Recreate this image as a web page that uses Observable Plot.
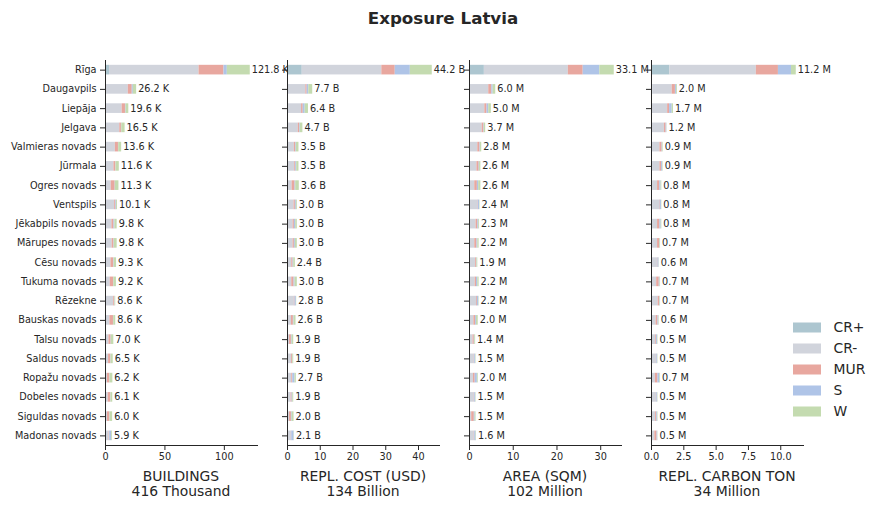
<!DOCTYPE html>
<html><head><meta charset="utf-8">
<script src="https://cdn.jsdelivr.net/npm/d3@7"></script>
<script src="https://cdn.jsdelivr.net/npm/@observablehq/plot@0.6"></script>
<style>
body{margin:0;background:#fff;font-family:"DejaVu Sans",sans-serif;}
#chart{position:relative;width:879px;height:510px;overflow:hidden;}
.title{position:absolute;left:0;width:886px;top:8px;text-align:center;font-weight:bold;font-size:16.7px;line-height:20px;color:#262626;}
.panel{position:absolute;top:0;}
.xlab{position:absolute;width:200px;text-align:center;font-size:13.9px;line-height:15px;color:#262626;}
</style></head><body><div id="chart"><div class="title">Exposure Latvia</div></div>
<script>
const regions = ["Rīga","Daugavpils","Liepāja","Jelgava","Valmieras novads","Jūrmala","Ogres novads","Ventspils","Jēkabpils novads","Mārupes novads","Cēsu novads","Tukuma novads","Rēzekne","Bauskas novads","Talsu novads","Saldus novads","Ropažu novads","Dobeles novads","Siguldas novads","Madonas novads"];
const categories = ["CR+","CR-","MUR","S","W"];
const colors = ["#adc6d0","#d1d4dc","#e8a79f","#afc4e7","#c4dbb0"];

// BUILDINGS (thousands) — one row per category
const buildings = [
  [3.4,0.2,0.2,0.1,0.1,0.1,0.1,0.1,0.1,0.1,0.1,0.1,0.1,0.1,0.1,0.1,0.1,0.1,0.1,0.3],
  [75.3,19.0,13.8,11.9,8.2,7.0,4.7,7.6,5.3,5.5,4.5,3.9,6.8,3.6,2.8,2.5,1.6,2.2,1.6,2.8],
  [21.0,3.3,2.8,1.4,2.6,1.6,3.3,1.0,1.7,1.5,2.3,2.8,0.8,3.0,1.8,1.9,1.9,2.1,1.9,0.4],
  [2.8,0.9,0.5,0.3,0.2,0.2,0.2,0.6,0.8,0.3,0.4,0.2,0.3,0.2,0.2,0.2,0.2,0.2,0.2,1.7],
  [19.3,2.8,2.3,2.8,2.5,2.7,3.0,0.8,1.9,2.4,2.0,2.2,0.6,1.7,2.1,1.8,2.4,1.5,2.2,0.7]
];
const buildingsTotal = [121.8,26.2,19.6,16.5,13.6,11.6,11.3,10.1,9.8,9.8,9.3,9.2,8.6,8.6,7.0,6.5,6.2,6.1,6.0,5.9];

// REPL. COST (billion USD)
const cost = [
  [4.5,0.3,0.3,0.1,0.1,0.1,0.1,0.1,0.1,0.1,0.1,0.1,0.1,0.1,0.1,0.1,0.1,0.1,0.1,0.1],
  [24.3,5.3,4.0,3.2,2.0,2.1,1.3,1.9,1.6,1.6,1.2,1.2,2.0,1.1,0.5,1.1,1.2,1.0,0.5,1.1],
  [4.1,0.4,0.5,0.4,0.4,0.3,0.9,0.4,0.4,0.4,0.4,0.7,0.2,0.6,0.6,0.3,0.3,0.3,0.6,0.1],
  [4.6,0.5,0.6,0.2,0.2,0.3,0.2,0.3,0.4,0.3,0.2,0.3,0.4,0.2,0.2,0.1,0.7,0.2,0.2,0.7],
  [6.7,1.2,1.0,0.8,0.8,0.7,1.1,0.3,0.5,0.6,0.5,0.7,0.1,0.6,0.5,0.3,0.4,0.3,0.6,0.1]
];
const costTotal = [44.2,7.7,6.4,4.7,3.5,3.5,3.6,3.0,3.0,3.0,2.4,3.0,2.8,2.6,1.9,1.9,2.7,1.9,2.0,2.1];

// AREA (million sqm)
const area = [
  [3.4,0.1,0.2,0.1,0.1,0.1,0.1,0.1,0.1,0.1,0.1,0.1,0.1,0.1,0.1,0.1,0.1,0.1,0.1,0.1],
  [19.2,4.3,3.3,2.8,1.8,1.6,1.1,1.8,1.4,1.1,1.3,1.2,1.5,0.9,0.7,1.0,0.8,1.0,0.4,1.0],
  [3.4,0.7,0.5,0.4,0.5,0.5,0.6,0.1,0.4,0.5,0.2,0.3,0.2,0.4,0.3,0.1,0.4,0.1,0.6,0.1],
  [3.8,0.3,0.4,0.1,0.1,0.1,0.3,0.3,0.2,0.2,0.1,0.3,0.3,0.2,0.1,0.2,0.5,0.2,0.2,0.3],
  [3.3,0.6,0.6,0.3,0.3,0.3,0.5,0.1,0.2,0.3,0.2,0.3,0.1,0.4,0.2,0.1,0.2,0.1,0.2,0.1]
];
const areaTotal = [33.1,6.0,5.0,3.7,2.8,2.6,2.6,2.4,2.3,2.2,1.9,2.2,2.2,2.0,1.4,1.5,2.0,1.5,1.5,1.6];

// REPL. CARBON (million ton)
const carbon = [
  [1.42,0.1,0.05,0.05,0.02,0.05,0.02,0.02,0.02,0.02,0.02,0.02,0.02,0.02,0.02,0.02,0.02,0.02,0.02,0.02],
  [6.69,1.5,1.2,0.95,0.63,0.6,0.45,0.6,0.45,0.45,0.44,0.38,0.5,0.34,0.3,0.36,0.28,0.36,0.3,0.24],
  [1.71,0.25,0.15,0.13,0.17,0.13,0.17,0.05,0.18,0.15,0.04,0.2,0.1,0.14,0.06,0.03,0.2,0.03,0.08,0.17],
  [1.01,0.08,0.2,0.05,0.03,0.08,0.1,0.1,0.1,0.03,0.08,0.06,0.04,0.06,0.08,0.06,0.15,0.06,0.06,0.05],
  [0.37,0.07,0.1,0.02,0.05,0.04,0.06,0.03,0.05,0.05,0.02,0.04,0.04,0.04,0.04,0.03,0.05,0.03,0.04,0.02]
];
const carbonTotal = [11.2,2.0,1.7,1.2,0.9,0.9,0.8,0.8,0.8,0.7,0.6,0.7,0.7,0.6,0.5,0.5,0.7,0.5,0.5,0.5];

const buildingsTicks = [0,50,100];
const costTicks = [0,10,20,30,40];
const areaTicks = [0,10,20,30];
const carbonTicks = [0,2.5,5,7.5,10];

const panelTitles = [["BUILDINGS","416 Thousand"],["REPL. COST (USD)","134 Billion"],["AREA (SQM)","102 Million"],["REPL. CARBON TON","34 Million"]];
const units = ["K","B","M","M"];

const panels = [
  {values: buildings, totals: buildingsTotal, ticks: buildingsTicks, fmt: d3.format("d"), left: 105},
  {values: cost, totals: costTotal, ticks: costTicks, fmt: d3.format("d"), left: 287},
  {values: area, totals: areaTotal, ticks: areaTicks, fmt: d3.format("d"), left: 469},
  {values: carbon, totals: carbonTotal, ticks: carbonTicks, fmt: d3.format(".1f"), left: 651}
];

const chart = document.getElementById("chart");
const frameW = 152;
const ink = "#262626";

panels.forEach((p, idx) => {
  const rows = [];
  categories.forEach((c, ci) => regions.forEach((r, ri) => rows.push({region: r, cat: c, value: p.values[ci][ri]})));
  const labels = regions.map((r, i) => ({region: r, total: p.totals[i]}));
  const xmax = d3.max(p.totals) * 1.05;
  const ml = idx === 0 ? 105 : 12;
  const svg = Plot.plot({
    width: ml + frameW + 40, height: 510,
    marginLeft: ml, marginRight: 40, marginTop: 60, marginBottom: 65,
    style: {background: "transparent", overflow: "visible", fontFamily: "DejaVu Sans", fontSize: "9.7px", color: ink},
    x: {domain: [0, xmax], ticks: p.ticks, tickFormat: p.fmt, label: null, tickSize: 5, tickPadding: 3},
    y: {domain: regions, paddingInner: 0.5, paddingOuter: 0.25, round: false, label: null, tickSize: 5, tickPadding: 4,
        tickFormat: idx === 0 ? (d => d) : (() => "")},
    color: {domain: categories, range: colors},
    marks: [
      Plot.barX(rows, Plot.stackX({x: "value", y: "region", fill: "cat", order: categories})),
      Plot.text(labels, {x: "total", y: "region", text: d => d.total.toFixed(1) + " " + units[idx], textAnchor: "start", dx: 1.5, fill: ink, fontSize: 9.7}),
      Plot.ruleX([0], {stroke: ink, strokeWidth: 1}),
      Plot.frame({anchor: "bottom", stroke: ink, strokeWidth: 1})
    ]
  });
  svg.classList.add("panel");
  svg.style.left = (p.left - ml) + "px";
  chart.appendChild(svg);

  const lab = document.createElement("div");
  lab.className = "xlab";
  lab.style.left = (p.left + frameW / 2 - 100) + "px";
  lab.style.top = "469px";
  lab.innerHTML = panelTitles[idx].join("<br>");
  chart.appendChild(lab);
});

// legend
const legend = Plot.plot({
  width: 86, height: 105,
  marginLeft: 0, marginRight: 58, marginTop: 0, marginBottom: 0,
  style: {background: "transparent", overflow: "visible", fontFamily: "DejaVu Sans", color: ink},
  y: {domain: categories, padding: 0, round: false, axis: null},
  color: {domain: categories, range: colors},
  marks: [
    Plot.cell(categories, {y: d => d, fill: d => d, insetTop: 5.5, insetBottom: 5.5}),
    Plot.text(categories, {y: d => d, text: d => d, frameAnchor: "left", dx: 40, textAnchor: "start", fontSize: 13.9, fill: ink})
  ]
});
legend.style.position = "absolute";
legend.style.left = "793px";
legend.style.top = "317px";
chart.appendChild(legend);
</script></body></html>
